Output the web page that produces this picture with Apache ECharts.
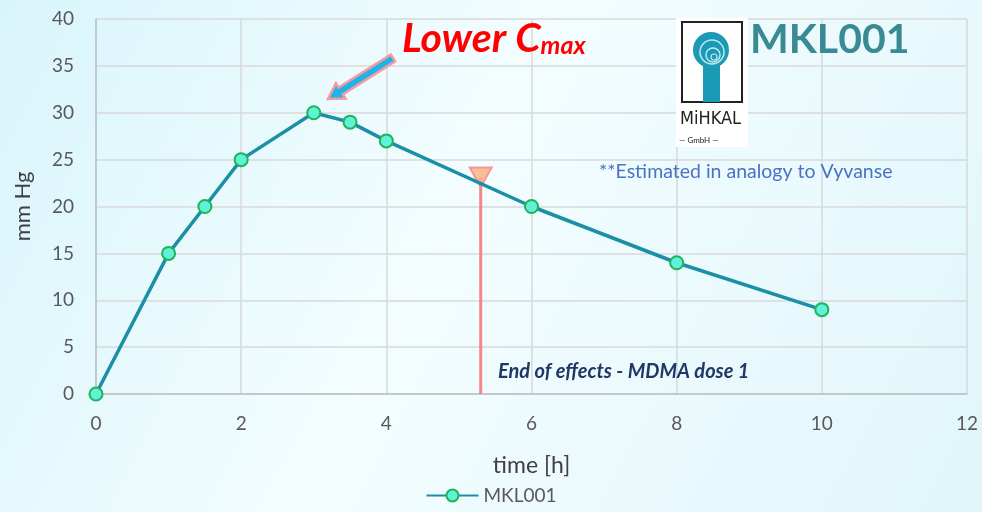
<!DOCTYPE html>
<html>
<head>
<meta charset="utf-8">
<script src="https://cdn.jsdelivr.net/npm/echarts@6/dist/echarts.min.js"></script>
<style>
  html, body { margin: 0; padding: 0; }
  #chart { width: 982px; height: 512px; }
</style>
</head>
<body>
<div id="chart"></div>
<script>
// data
var timeH = [0, 1, 1.5, 2, 3, 3.5, 4, 6, 8, 10];
var mmHg = [0, 15, 20, 25, 30, 29, 27, 20, 14, 9];
var endOfEffects = [5.3, 23.1]; // time, level where the marker sits
var seriesName = 'MKL001';

var font = 'Lato, "Open Sans", sans-serif';
var chart = echarts.init(document.getElementById('chart'));

// arrow annotation polygon (tail -> head)
function arrowPoints(x1, y1, x2, y2, w, hw, hl) {
    var dx = x2 - x1, dy = y2 - y1;
    var len = Math.sqrt(dx * dx + dy * dy);
    var ux = dx / len, uy = dy / len, px = -uy, py = ux;
    var bx = x2 - ux * hl, by = y2 - uy * hl;
    return [
        [x1 + px * w, y1 + py * w], [bx + px * w, by + py * w], [bx + px * hw, by + py * hw],
        [x2, y2],
        [bx - px * hw, by - py * hw], [bx - px * w, by - py * w], [x1 - px * w, y1 - py * w]
    ];
}

var option = {
    backgroundColor: {
        type: 'linear', x: 0, y: 0, x2: 1, y2: 1,
        colorStops: [
            { offset: 0, color: '#d8f5fb' },
            { offset: 0.45, color: '#f3fdff' },
            { offset: 1, color: '#e0f6fb' }
        ]
    },
    textStyle: { fontFamily: font },
    grid: { left: 96, right: 15, top: 19, bottom: 118 },
    legend: {
        data: [seriesName],
        bottom: 2,
        left: 'center',
        itemWidth: 52,
        itemHeight: 15,
        textStyle: { fontSize: 19, color: '#595959', fontFamily: font }
    },
    xAxis: {
        type: 'value', min: 0, max: 12, interval: 2,
        name: 'time [h]', nameLocation: 'middle', nameGap: 60,
        nameTextStyle: { fontSize: 23, color: '#404040' },
        axisLine: { lineStyle: { color: '#bfbfbf', width: 1.5 } },
        axisTick: { show: false },
        axisLabel: { fontSize: 19, color: '#595959', margin: 20 },
        splitLine: { lineStyle: { color: '#d9d9d9', width: 1.5 } }
    },
    yAxis: {
        type: 'value', min: 0, max: 40, interval: 5,
        name: 'mm Hg', nameLocation: 'middle', nameGap: 62,
        nameTextStyle: { fontSize: 22, color: '#404040' },
        axisLine: { show: true, lineStyle: { color: '#bfbfbf', width: 1.5 } },
        axisTick: { show: false },
        axisLabel: { fontSize: 19, color: '#595959', margin: 22 },
        splitLine: { lineStyle: { color: '#d9d9d9', width: 1.5 } }
    },
    series: [
        {
            name: 'End',
            type: 'line',
            data: [[endOfEffects[0], endOfEffects[1]], [endOfEffects[0], 0]],
            symbol: 'none',
            lineStyle: { color: '#f7868a', width: 3 },
            z: 3,
            silent: true
        },
        {
            name: 'EndMarker',
            type: 'scatter',
            data: [endOfEffects],
            symbol: 'triangle',
            symbolRotate: 180,
            symbolSize: [22, 20],
            itemStyle: { color: '#f7b07e', borderColor: '#f7868a', borderWidth: 2 },
            z: 4,
            silent: true
        },
        {
            name: seriesName,
            type: 'line',
            data: timeH.map(function (t, i) { return [t, mmHg[i]]; }),
            symbol: 'circle',
            symbolSize: 13,
            lineStyle: { color: '#1b8fa6', width: 3.5 },
            itemStyle: { color: '#5ff2d6', borderColor: '#1fb35a', borderWidth: 2 },
            z: 5
        }
    ],
    graphic: [
        {
            type: 'polygon',
            shape: { points: arrowPoints(393, 58, 328, 99, 4, 9, 15) },
            style: { fill: '#1fb4e8', stroke: '#f59aa0', lineWidth: 2.5 },
            z: 10
        },
        {
            type: 'text', left: 402, top: 18,
            style: {
                text: '{a|Lower C}{b|max}',
                rich: {
                    a: { fontSize: 41, fontWeight: 'bold', fontStyle: 'italic', fill: '#ff0000', fontFamily: 'Lato, sans-serif' },
                    b: { fontSize: 25, fontWeight: 'bold', fontStyle: 'italic', fill: '#ff0000', fontFamily: 'Lato, sans-serif', padding: [14, 0, 0, 0] }
                }
            },
            z: 10
        },
        // logo
        { type: 'rect', shape: { x: 676, y: 18, width: 72, height: 129 }, style: { fill: '#ffffff' }, z: 8 },
        { type: 'rect', shape: { x: 682, y: 22, width: 60, height: 80 }, style: { fill: 'none', stroke: '#222', lineWidth: 2 }, z: 9 },
        { type: 'circle', shape: { cx: 711, cy: 50, r: 18 }, style: { fill: '#1a9ab5' }, z: 9 },
        { type: 'rect', shape: { x: 703, y: 62, width: 17, height: 40 }, style: { fill: '#1a9ab5' }, z: 9 },
        { type: 'circle', shape: { cx: 712, cy: 52, r: 12 }, style: { fill: 'none', stroke: '#bfe9f1', lineWidth: 1.5 }, z: 10 },
        { type: 'circle', shape: { cx: 713, cy: 55, r: 7 }, style: { fill: 'none', stroke: '#bfe9f1', lineWidth: 1.5 }, z: 10 },
        { type: 'circle', shape: { cx: 714, cy: 57, r: 3 }, style: { fill: 'none', stroke: '#bfe9f1', lineWidth: 1.2 }, z: 10 },
        {
            type: 'text', left: 680, top: 110,
            style: { text: 'MiHKAL', fontSize: 18, fill: '#222', fontFamily: '"DejaVu Sans Condensed", sans-serif', letterSpacing: 1 },
            z: 10
        },
        {
            type: 'text', left: 679, top: 136,
            style: { text: '\u2014 GmbH \u2014', fontSize: 8, fill: '#222', fontFamily: font },
            z: 10
        },
        {
            type: 'text', left: 750, top: 19,
            style: { text: 'MKL001', fontSize: 41, fontWeight: 'bold', fill: '#3a8a94', fontFamily: font },
            z: 10
        },
        {
            type: 'text', left: 599, top: 162,
            style: { text: '**Estimated in analogy to Vyvanse', fontSize: 19.5, fill: '#4a72c4', fontFamily: font },
            z: 10
        },
        {
            type: 'text', left: 498, top: 362,
            style: { text: 'End of effects - MDMA dose 1', fontSize: 20, fontWeight: 'bold', fontStyle: 'italic', fill: '#1f3864', fontFamily: font },
            z: 10
        }
    ]
};

chart.setOption(option);
</script>
</body>
</html>
